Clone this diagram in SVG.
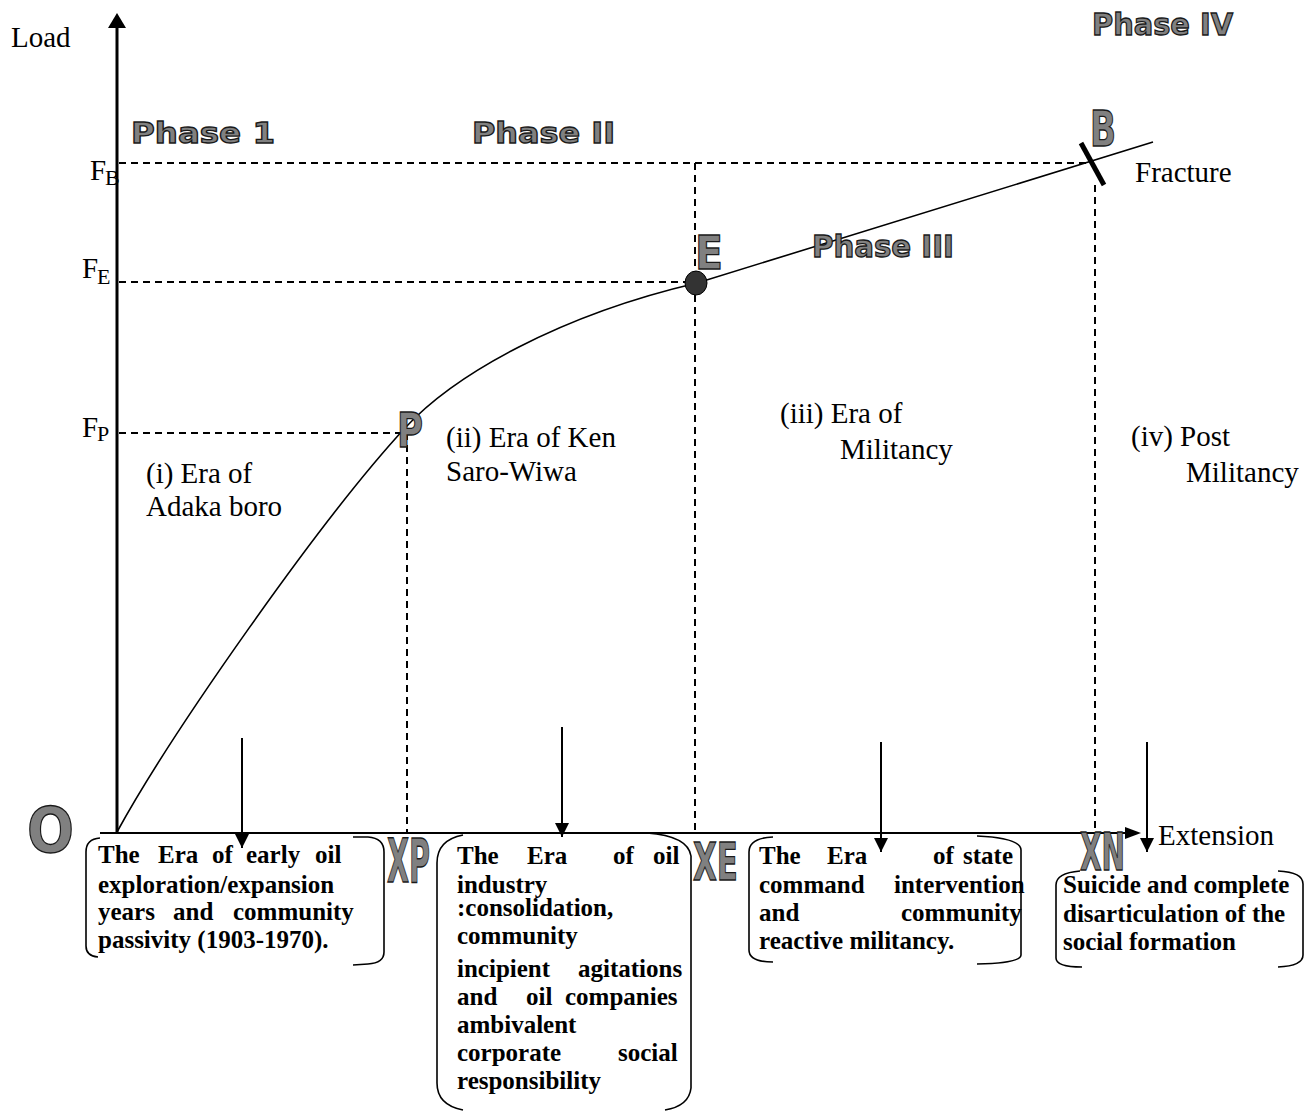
<svg xmlns="http://www.w3.org/2000/svg" width="1307" height="1111" viewBox="0 0 1307 1111">
<style>
.lbl{font-family:"Liberation Serif","Times New Roman",serif;font-size:29px;fill:#000}
.sub{font-family:"Liberation Serif","Times New Roman",serif;font-size:22px;fill:#000}
.bx{font-family:"Liberation Serif","Times New Roman",serif;font-size:25px;font-weight:bold;fill:#000}
.big{font-family:"DejaVu Sans","Liberation Sans",sans-serif;font-weight:bold;fill:#808080;stroke:#1a1a1a;stroke-width:1.3}
.dash{fill:none;stroke:#000;stroke-width:2;stroke-dasharray:7 5}
.brk{fill:none;stroke:#000;stroke-width:1.6}
.arr{stroke:#000;stroke-width:2;fill:none}
</style>
<defs>
<marker id="ah" markerUnits="userSpaceOnUse" markerWidth="14" markerHeight="14" viewBox="0 0 14 14" refX="7" refY="14" orient="0" overflow="visible">
<path d="M0,0 L14,0 L7,14 Z" fill="#000"/>
</marker>
</defs>
<rect width="1307" height="1111" fill="#fff"/>

<g id="guides">
<path class="dash" d="M119,163 H1094"/>
<path class="dash" d="M119,282 H695"/>
<path class="dash" d="M119,433 H407"/>
<path class="dash" d="M407,433 V832"/>
<path class="dash" d="M695,163 V832"/>
<path class="dash" d="M1095,185 V832"/>
</g>

<g id="axes">
<line x1="117" y1="24" x2="117" y2="833" stroke="#000" stroke-width="3"/>
<path d="M117,13 L126,28 L108,28 Z" fill="#000"/>
<line x1="100" y1="833" x2="1127" y2="833" stroke="#000" stroke-width="2"/>
<path d="M1141,833 L1125,827 L1125,839 Z" fill="#000"/>
</g>

<g id="curve">
<path d="M117,832 C170,735 320,520 405,428 C455,374 560,315 697,283 L1153,142" fill="none" stroke="#000" stroke-width="1.6"/>
<line x1="1081" y1="143" x2="1104" y2="185" stroke="#000" stroke-width="5"/>
<ellipse cx="696" cy="283" rx="11" ry="12" fill="#333" stroke="#000" stroke-width="1"/>
</g>

<g id="connectors">
<line class="arr" x1="242" y1="738" x2="242" y2="848" marker-end="url(#ah)"/>
<line class="arr" x1="562" y1="727" x2="562" y2="837" marker-end="url(#ah)"/>
<line class="arr" x1="881" y1="742" x2="881" y2="852" marker-end="url(#ah)"/>
<line class="arr" x1="1147" y1="742" x2="1147" y2="852" marker-end="url(#ah)"/>
</g>

<g id="axis-labels">
<text class="lbl" x="11" y="47">Load</text>
<text class="lbl" x="1158" y="845">Extension</text>
<text class="lbl" x="1135" y="182">Fracture</text>
<text class="lbl" x="90" y="180">F</text><text class="sub" x="105" y="185">B</text>
<text class="lbl" x="82" y="278">F</text><text class="sub" x="97" y="284">E</text>
<text class="lbl" x="82" y="437">F</text><text class="sub" x="97" y="441">P</text>
</g>

<g id="phase-labels">
<text class="big" x="131" y="143" font-size="29" textLength="144" lengthAdjust="spacingAndGlyphs">Phase 1</text>
<text class="big" x="472" y="143" font-size="29" textLength="143" lengthAdjust="spacingAndGlyphs">Phase II</text>
<text class="big" x="812" y="257" font-size="31" textLength="142" lengthAdjust="spacingAndGlyphs">Phase III</text>
<text class="big" x="1092" y="35" font-size="31" textLength="141" lengthAdjust="spacingAndGlyphs">Phase IV</text>
</g>

<g id="point-labels">
<text class="big" x="27" y="852" font-size="62" textLength="47" lengthAdjust="spacingAndGlyphs">O</text>
<text class="big" x="397" y="447" font-size="48" textLength="26" lengthAdjust="spacingAndGlyphs">P</text>
<text class="big" x="695" y="269" font-size="47" textLength="28" lengthAdjust="spacingAndGlyphs">E</text>
<text class="big" x="1090" y="146" font-size="49" textLength="26" lengthAdjust="spacingAndGlyphs">B</text>
<text class="big" x="387" y="882" font-size="60" textLength="43" lengthAdjust="spacingAndGlyphs">XP</text>
<text class="big" x="693" y="880" font-size="52" textLength="45" lengthAdjust="spacingAndGlyphs">XE</text>
<text class="big" x="1080" y="870" font-size="51" textLength="45" lengthAdjust="spacingAndGlyphs">XN</text>
</g>

<g id="era-1">
<text class="lbl" x="146" y="483">(i) Era of</text>
<text class="lbl" x="146" y="516">Adaka boro</text>
</g>
<g id="era-2">
<text class="lbl" x="446" y="447">(ii) Era of Ken</text>
<text class="lbl" x="446" y="481">Saro-Wiwa</text>
</g>
<g id="era-3">
<text class="lbl" x="780" y="423">(iii) Era of</text>
<text class="lbl" x="840" y="459">Militancy</text>
</g>
<g id="era-4">
<text class="lbl" x="1131" y="446">(iv) Post</text>
<text class="lbl" x="1186" y="482">Militancy</text>
</g>

<g id="box-1">
<path class="brk" d="M100,838 Q86,839 86,852 L86,946 Q86,956 98,957"/>
<path class="brk" d="M353,837 L368,837 Q384,838 384,852 L384,952 Q384,963 368,964 L353,965"/>
<text class="bx" y="863"><tspan x="98">The</tspan><tspan x="158">Era</tspan><tspan x="212">of</tspan><tspan x="246">early</tspan><tspan x="315">oil</tspan></text>
<text class="bx" x="98" y="893">exploration/expansion</text>
<text class="bx" y="920"><tspan x="98">years</tspan><tspan x="173">and</tspan><tspan x="233">community</tspan></text>
<text class="bx" x="98" y="948">passivity (1903-1970).</text>
</g>

<g id="box-2">
<path class="brk" d="M463,835 Q437,840 437,863 L437,1083 Q437,1105 463,1110"/>
<path class="brk" d="M647,833 Q688,836 691,856 L691,1088 Q689,1106 665,1110"/>
<text class="bx" y="864"><tspan x="457">The</tspan><tspan x="527">Era</tspan><tspan x="613">of</tspan><tspan x="653">oil</tspan></text>
<text class="bx" x="457" y="893">industry</text>
<text class="bx" x="457" y="916">:consolidation,</text>
<text class="bx" x="457" y="944">community</text>
<text class="bx" y="977"><tspan x="457">incipient</tspan><tspan x="578">agitations</tspan></text>
<text class="bx" y="1005"><tspan x="457">and</tspan><tspan x="526">oil</tspan><tspan x="565">companies</tspan></text>
<text class="bx" x="457" y="1033">ambivalent</text>
<text class="bx" y="1061"><tspan x="457">corporate</tspan><tspan x="618">social</tspan></text>
<text class="bx" x="457" y="1089">responsibility</text>
</g>

<g id="box-3">
<path class="brk" d="M773,837 Q749,838 749,852 L749,950 Q749,962 773,962"/>
<path class="brk" d="M977,836 Q1021,838 1021,850 L1021,955 Q1021,963 977,964"/>
<text class="bx" y="864"><tspan x="759">The</tspan><tspan x="827">Era</tspan><tspan x="933">of</tspan><tspan x="963">state</tspan></text>
<text class="bx" y="893"><tspan x="759">command</tspan><tspan x="894">intervention</tspan></text>
<text class="bx" y="921"><tspan x="759">and</tspan><tspan x="901">community</tspan></text>
<text class="bx" x="759" y="949">reactive militancy.</text>
</g>

<g id="box-4">
<path class="brk" d="M1080,871 Q1056,873 1056,885 L1056,958 Q1056,967 1082,967"/>
<path class="brk" d="M1278,871 Q1303,872 1303,884 L1303,955 Q1303,966 1278,967"/>
<text class="bx" x="1063" y="893">Suicide and complete</text>
<text class="bx" x="1063" y="922">disarticulation of the</text>
<text class="bx" x="1063" y="950">social formation</text>
</g>
</svg>
